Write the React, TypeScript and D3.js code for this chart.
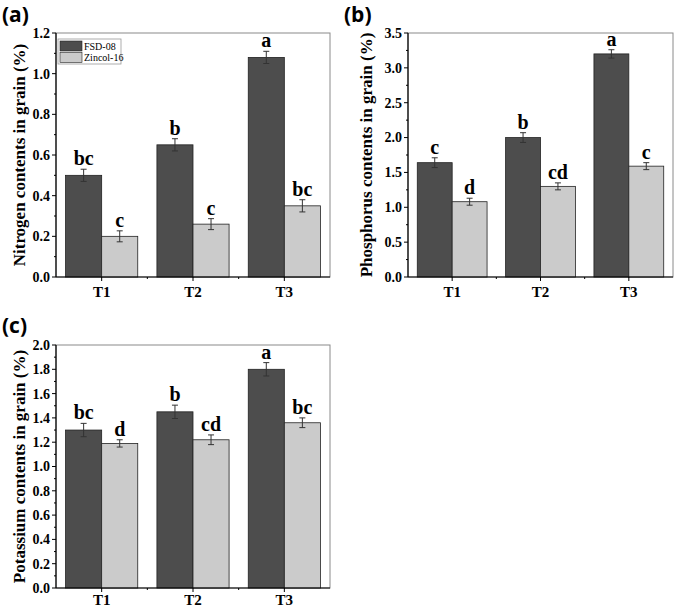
import React from "react";
import * as d3 from "d3";

const categories = ["T1", "T2", "T3"];
const seriesNames = ["FSD-08", "Zincol-16"];

const nFSD = [0.5, 0.65, 1.08];
const nZin = [0.2, 0.26, 0.35];
const nFSDErr = [0.03, 0.03, 0.03];
const nZinErr = [0.027, 0.027, 0.03];
const nFSDLetters = ["bc", "b", "a"];
const nZinLetters = ["c", "c", "bc"];

const pFSD = [1.64, 2.0, 3.2];
const pZin = [1.08, 1.3, 1.59];
const pFSDErr = [0.07, 0.07, 0.06];
const pZinErr = [0.05, 0.05, 0.05];
const pFSDLetters = ["c", "b", "a"];
const pZinLetters = ["d", "cd", "c"];

const kFSD = [1.3, 1.45, 1.8];
const kZin = [1.19, 1.22, 1.36];
const kFSDErr = [0.055, 0.055, 0.055];
const kZinErr = [0.03, 0.04, 0.04];
const kFSDLetters = ["bc", "b", "a"];
const kZinLetters = ["d", "cd", "bc"];

const nTicks = [0, 0.2, 0.4, 0.6, 0.8, 1.0, 1.2];
const pTicks = [0, 0.5, 1.0, 1.5, 2.0, 2.5, 3.0, 3.5];
const kTicks = [0, 0.2, 0.4, 0.6, 0.8, 1.0, 1.2, 1.4, 1.6, 1.8, 2.0];

const DARK = "#4d4d4d";
const LIGHT = "#cbcbcb";
const SERIF = "'Liberation Serif', 'Times New Roman', serif";

type PanelProps = {
  label: string;
  x0: number; x1: number; y0: number; y1: number;
  ymax: number; ticks: number[]; decimals: number;
  ylabel: string; ylabelX: number;
  a: number[]; b: number[]; aErr: number[]; bErr: number[];
  aL: string[]; bL: string[];
  legend?: boolean;
  labelX: number; labelY: number;
  xLabOff: number;
};

function Panel(p: PanelProps) {
  const x = d3.scaleBand<string>().domain(categories).range([p.x0, p.x1]).paddingInner(0.21).paddingOuter(0.105);
  const y = d3.scaleLinear().domain([0, p.ymax]).range([p.y1, p.y0]);
  const bw = x.bandwidth() / 2;
  const step = p.ticks[1] - p.ticks[0];
  const minor = p.ticks.slice(0, -1).map((t) => t + step / 2);
  const fmt = d3.format(`.${p.decimals}f`);
  const series = [
    { vals: p.a, err: p.aErr, lab: p.aL, color: DARK, off: 0 },
    { vals: p.b, err: p.bErr, lab: p.bL, color: LIGHT, off: bw },
  ];
  const bandStep = x.step();
  return (
    <g>
      <text x={p.labelX} y={p.labelY} fontFamily="'Open Sans', 'DejaVu Sans', sans-serif" fontWeight="bold" fontSize={21}>{p.label}</text>
      <rect x={p.x0} y={p.y0} width={p.x1 - p.x0} height={p.y1 - p.y0} fill="white" stroke="#8a8a8a" strokeWidth={1} />
      {series.map((s, si) =>
        categories.map((c, i) => {
          const bx = (x(c) as number) + s.off;
          const top = y(s.vals[i]);
          const cx = bx + bw / 2;
          const eT = y(s.vals[i] + s.err[i]);
          const eB = y(s.vals[i] - s.err[i]);
          return (
            <g key={`${si}-${c}`}>
              <rect x={bx} y={top} width={bw} height={p.y1 - top} fill={s.color} stroke="#222" strokeWidth={0.8} />
              <line x1={cx} x2={cx} y1={eT} y2={eB} stroke="#333" strokeWidth={1} />
              <line x1={cx - 3} x2={cx + 3} y1={eT} y2={eT} stroke="#333" strokeWidth={1} />
              <line x1={cx - 3} x2={cx + 3} y1={eB} y2={eB} stroke="#333" strokeWidth={1} />
              <text x={cx} y={eT - 4} textAnchor="middle" fontFamily={SERIF} fontWeight="bold" fontSize={20}>{s.lab[i]}</text>
            </g>
          );
        })
      )}
      <line x1={p.x0} x2={p.x0} y1={p.y0} y2={p.y1} stroke="#000" strokeWidth={1.2} />
      <line x1={p.x0} x2={p.x1} y1={p.y1} y2={p.y1} stroke="#000" strokeWidth={1.2} />
      {p.ticks.map((t) => (
        <g key={`t${t}`}>
          <line x1={p.x0 - 4} x2={p.x0} y1={y(t)} y2={y(t)} stroke="#000" />
          <text x={p.x0 - 6} y={y(t)} dy="0.35em" textAnchor="end" fontFamily={SERIF} fontWeight="bold" fontSize={14}>{fmt(t)}</text>
        </g>
      ))}
      {minor.map((t) => (
        <line key={`m${t}`} x1={p.x0 - 2} x2={p.x0} y1={y(t)} y2={y(t)} stroke="#000" />
      ))}
      {categories.map((c) => {
        const cx = (x(c) as number) + x.bandwidth() / 2;
        return (
          <g key={`x${c}`}>
            <line x1={cx} x2={cx} y1={p.y1} y2={p.y1 + 4} stroke="#000" />
            <text x={cx} y={p.y1 + p.xLabOff} textAnchor="middle" fontFamily={SERIF} fontWeight="bold" fontSize={15}>{c}</text>
          </g>
        );
      })}
      {categories.slice(0, -1).map((c) => {
        const bx = (x(c) as number) + x.bandwidth() / 2 + bandStep / 2;
        return <line key={`xm${c}`} x1={bx} x2={bx} y1={p.y1} y2={p.y1 + 2} stroke="#000" />;
      })}
      <text transform={`translate(${p.ylabelX},${(p.y0 + p.y1) / 2}) rotate(-90)`} textAnchor="middle" dy="0.35em" fontFamily={SERIF} fontWeight="bold" fontSize={17}>{p.ylabel}</text>
      {p.legend && (
        <g>
          <rect x={p.x0 + 2} y={p.y0 + 6} width={63} height={25} fill="white" stroke="#999" strokeWidth={0.8} />
          {seriesNames.map((n, i) => (
            <g key={n}>
              <rect x={p.x0 + 4} y={p.y0 + 8 + i * 11.5} width={22} height={10} fill={i === 0 ? DARK : LIGHT} stroke="#222" strokeWidth={0.6} />
              <text x={p.x0 + 28} y={p.y0 + 13 + i * 11.5} dy="0.35em" fontFamily={SERIF} fontSize={10}>{n}</text>
            </g>
          ))}
        </g>
      )}
    </g>
  );
}

export default function App() {
  return (
    <svg width={678} height={609} style={{ position: "absolute", left: 0, top: 0, background: "white" }}>
      <rect width={678} height={609} fill="white" />
      <Panel label="(a)" labelX={2} labelY={22} x0={56} x1={330} y0={33} y1={277} ymax={1.2} ticks={nTicks} decimals={1}
        ylabel="Nitrogen contents in grain (%)" ylabelX={19} xLabOff={20}
        a={nFSD} b={nZin} aErr={nFSDErr} bErr={nZinErr} aL={nFSDLetters} bL={nZinLetters} legend />
      <Panel label="(b)" labelX={344} labelY={22} x0={408} x1={673} y0={33} y1={277} ymax={3.5} ticks={pTicks} decimals={1}
        ylabel="Phosphorus contents in grain (%)" ylabelX={366} xLabOff={20}
        a={pFSD} b={pZin} aErr={pFSDErr} bErr={pZinErr} aL={pFSDLetters} bL={pZinLetters} />
      <Panel label="(c)" labelX={2} labelY={333} x0={56} x1={330} y0={345} y1={588} ymax={2.0} ticks={kTicks} decimals={1}
        ylabel="Potassium contents in grain (%)" ylabelX={19} xLabOff={17}
        a={kFSD} b={kZin} aErr={kFSDErr} bErr={kZinErr} aL={kFSDLetters} bL={kZinLetters} />
    </svg>
  );
}
